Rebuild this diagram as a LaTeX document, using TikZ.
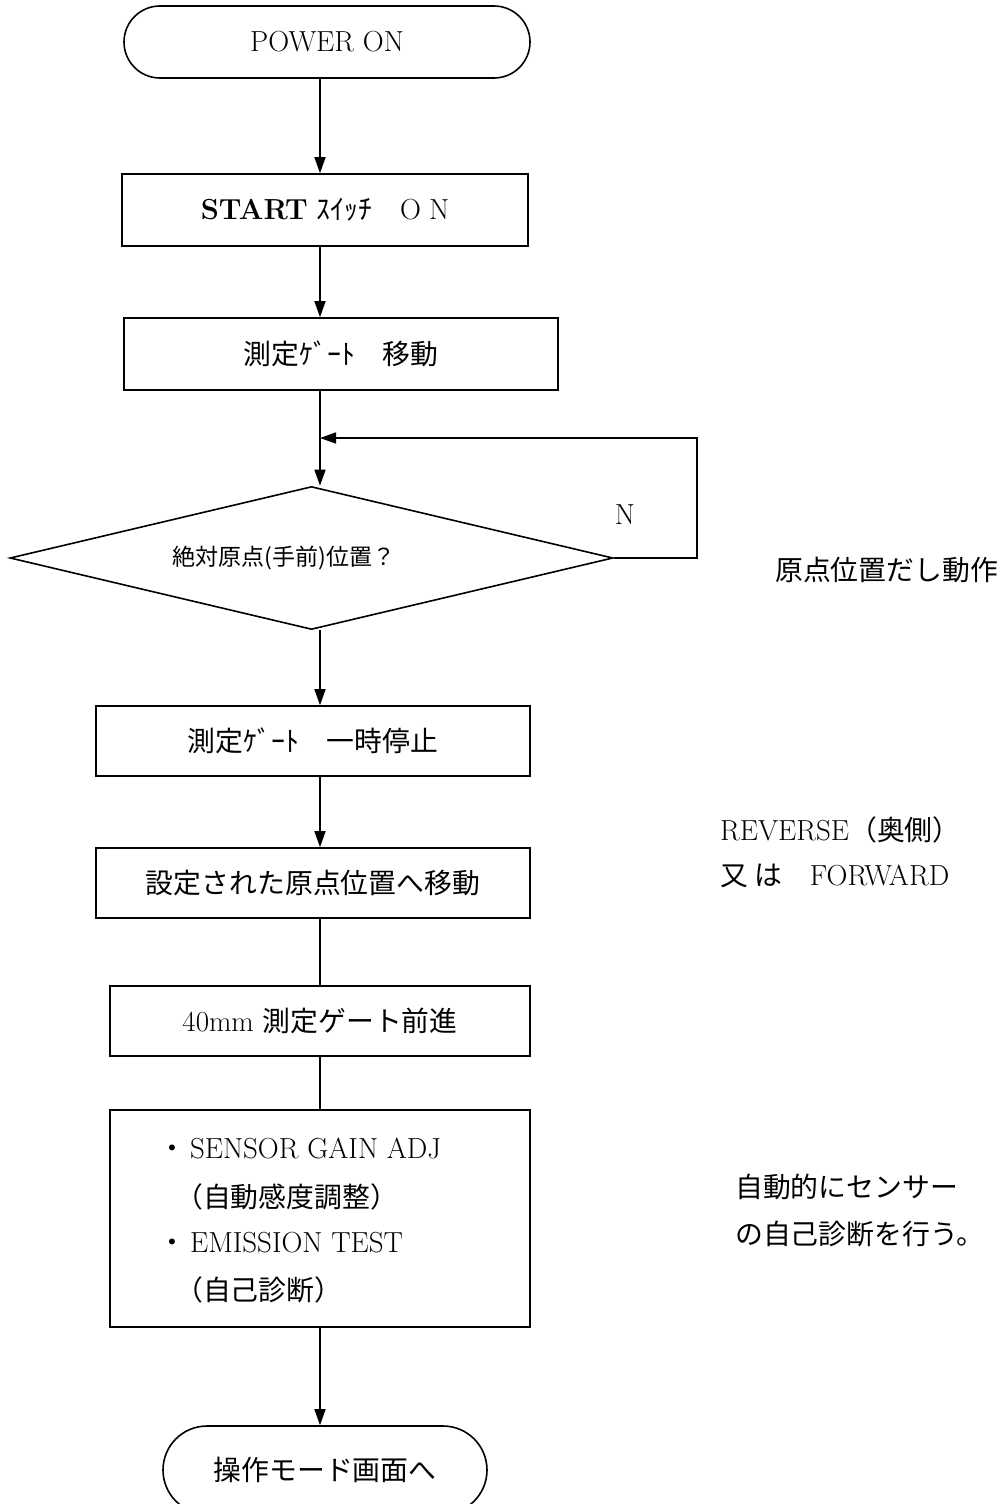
\documentclass[tikz,border=0pt]{standalone}
\usepackage{fontspec}
\newfontfamily\jp[Scale=0.96]{Noto Sans CJK JP}
\usetikzlibrary{shapes.geometric,shapes.misc,arrows.meta}
\begin{document}
\begin{tikzpicture}[x=1pt,y=-1pt,
  every node/.style={font=\fontsize{29}{34}\selectfont},
  proc/.style={draw,line width=1.6pt,inner sep=0pt,minimum width=#1,minimum height=70pt},
  term/.style={draw,line width=1.6pt,rounded rectangle,rounded rectangle arc length=180,inner sep=0pt,minimum width=#1,minimum height=72pt},
  dec/.style={draw,line width=1.6pt,diamond,inner sep=0pt,minimum width=603pt,minimum height=143pt},
  link/.style={line width=1.6pt},
  arr/.style={link,-{Triangle[length=16pt,width=11pt]}},
  txt/.style={inner sep=0pt,anchor=west}]
\useasboundingbox (0,0) rectangle (1000,1504);
\coordinate (sp) at (320,0);

\node[term=406pt] (pwr) at (327,42) {POWER ON};
\node[proc=406pt,minimum height=72pt] (start) at (325,210) {\textbf{START} {\jp ｽｲｯﾁ　}O\kern8pt N};
\node[proc=434pt,minimum height=72pt] (move) at (341,354) {{\jp 測定ｹﾞｰﾄ　移動}};
\node[dec] (dia) at (311.5,558) {};
\node[inner sep=0pt,font=\jp\fontsize{24}{28}\selectfont] (diat) at (284,558) {絶対原点(手前)位置？};
\node[inner sep=0pt] (nlab) at (625,515) {N};
\node[txt] (note1) at (775,570) {\jp 原点位置だし動作};

\node[proc=434pt] (halt) at (313,741) {{\jp 測定ｹﾞｰﾄ　一時停止}};
\node[proc=434pt] (home) at (313,883) {{\jp 設定された原点位置へ移動}};
\node[txt] (note2) at (720,830) {REVERSE{\jp （奥側）}};
\node[txt] (note3) at (720,876) {{\jp 又 は　}FORWARD};

\node[proc=420pt] (adv) at (320,1021) {40mm {\jp 測定ゲート前進}};
\node[proc=420pt,minimum height=217pt] (self) at (320,1218.5) {};
\node[txt] (l1) at (158,1148) {{\jp ・}\kern4pt SENSOR GAIN ADJ};
\node[txt] (l2) at (175,1197) {\jp （自動感度調整）};
\node[txt] (l3) at (158,1243) {{\jp ・}\kern4pt EMISSION TEST};
\node[txt] (l4) at (175,1290) {\jp （自己診断）};
\node[txt] (note4) at (735,1187) {\jp 自動的にセンサー};
\node[txt] (note5) at (735,1234) {\jp の自己診断を行う。};

\node[term=324pt,minimum height=88pt] (endt) at (325,1470) {\jp 操作モード画面へ};

\draw[arr] (pwr.south -| sp) -- (start.north -| sp);
\draw[arr] (start.south -| sp) -- (move.north -| sp);
\draw[arr] (move.south -| sp) -- (dia.north -| sp);
\coordinate (fb) at (697,438);
\coordinate (jn) at (320,438);
\draw[arr] (dia.east) -| (fb) -- (jn);
\draw[arr] (dia.south -| sp) -- (halt.north -| sp);
\draw[arr] (halt.south -| sp) -- (home.north -| sp);
\draw[link] (home.south -| sp) -- (adv.north -| sp);
\draw[link] (adv.south -| sp) -- (self.north -| sp);
\draw[arr] (self.south -| sp) -- (endt.north -| sp);
\end{tikzpicture}
\end{document}
